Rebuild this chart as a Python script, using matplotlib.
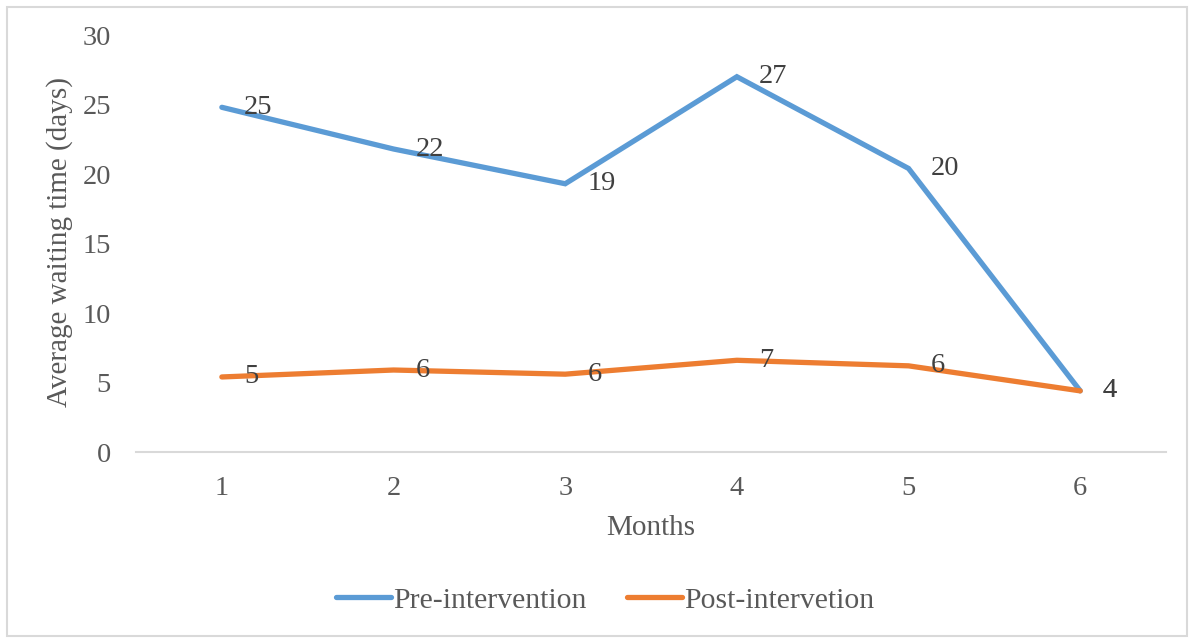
import matplotlib.pyplot as plt
from matplotlib.patches import Rectangle

months = [1, 2, 3, 4, 5, 6]
pre_intervention = [24.8, 21.8, 19.3, 27.0, 20.4, 4.4]
post_intervention = [5.4, 5.9, 5.6, 6.6, 6.2, 4.4]
series_names = ["Pre-intervention", "Post-intervetion"]

plt.rcParams['font.family'] = ['Liberation Serif', 'DejaVu Serif']

fig = plt.figure(figsize=(11.89, 6.38), dpi=100)
ax = fig.add_axes([0.1144, 0.2915, 0.8663, 0.6536])

# outer chart border
fig.patches.append(Rectangle((0.006, 0.003), 0.992, 0.986, transform=fig.transFigure,
                             fill=False, edgecolor='#D9D9D9', linewidth=1.5))

blue = '#5B9BD5'
orange = '#ED7D31'
ax.plot(months, pre_intervention, color=blue, linewidth=3.8, label=series_names[0],
        solid_joinstyle='miter', solid_capstyle='round')
ax.plot(months, post_intervention, color=orange, linewidth=3.8, label=series_names[1],
        solid_joinstyle='miter', solid_capstyle='round')

# value labels to the right of each point
for series in (pre_intervention, post_intervention):
    for m, v in zip(months, series):
        ax.annotate(f"{v:.0f}", (m, v), xytext=(16, 0), textcoords='offset points',
                    ha='left', va='center', fontsize=20.5, color='#404040')

ax.set_xlim(0.5, 6.5)
ax.set_ylim(0, 30)
ax.set_xticks(months)
ax.set_yticks(range(0, 31, 5))
ax.tick_params(length=0, labelsize=20.5, labelcolor='#595959')
ax.tick_params(axis='x', pad=17)
ax.tick_params(axis='y', pad=18)

for side in ('top', 'right', 'left'):
    ax.spines[side].set_visible(False)
ax.spines['bottom'].set_color('#D9D9D9')
ax.spines['bottom'].set_linewidth(1.5)

ax.set_xlabel("Months", fontsize=21, color='#595959', labelpad=10)
fig.text(0.05, 0.62, "Average waiting time (days)", rotation=90, fontsize=21,
         color='#595959', ha='center', va='center')

fig.legend(loc='center', bbox_to_anchor=(0.509, 0.059), ncol=2, frameon=False,
           fontsize=21.3, labelcolor='#595959', handlelength=1.85, handletextpad=0.1,
           columnspacing=1.35)

fig.savefig("out.png", dpi=100)
